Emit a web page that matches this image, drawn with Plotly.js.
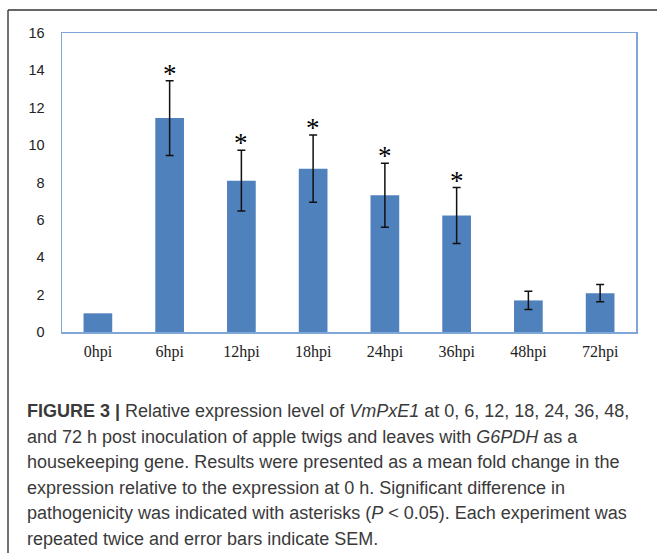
<!DOCTYPE html>
<html>
<head>
<meta charset="utf-8">
<script src="https://cdn.plot.ly/plotly-3.0.1.min.js"></script>
<style>html,body{margin:0;padding:0;background:#fff;}#chart{width:657px;height:553px;}</style>
</head>
<body>
<div id="chart"></div>
<script>
const categories = ["0hpi","6hpi","12hpi","18hpi","24hpi","36hpi","48hpi","72hpi"];
const values = [1.0, 11.45, 8.1, 8.74, 7.32, 6.23, 1.69, 2.08];
const sem = [NaN, 2.0, 1.62, 1.8, 1.71, 1.5, 0.49, 0.46];
const significant = [false, true, true, true, true, true, false, false];
const yTicks = [0, 2, 4, 6, 8, 10, 12, 14, 16];

const captionLines = [
  "<b>FIGURE 3 |</b> Relative expression level of <i>VmPxE1</i> at 0, 6, 12, 18, 24, 36, 48,",
  "and 72 h post inoculation of apple twigs and leaves with <i>G6PDH</i> as a",
  "housekeeping gene. Results were presented as a mean fold change in the",
  "expression relative to the expression at 0 h. Significant difference in",
  "pathogenicity was indicated with asterisks (<i>P</i> &lt; 0.05). Each experiment was",
  "repeated twice and error bars indicate SEM."
];

const L = 62, R = 21, T = 33, B = 221, W = 657, H = 553;
const pw = W - L - R, ph = H - T - B;
const px = x => (x - L) / pw;
const py = y => (H - B - y) / ph;

const trace = {
  type: "bar",
  x: categories,
  y: values,
  marker: {color: "#4f81bd", line: {width: 0}},
  error_y: {type: "data", array: sem, visible: true, color: "#111", thickness: 1.5, width: 4},
  hoverinfo: "none"
};

const annotations = [];
categories.forEach((c, i) => {
  if (significant[i]) {
    annotations.push({
      x: c, y: values[i] + sem[i], xref: "x", yref: "y",
      text: "*", showarrow: false, yanchor: "bottom", yshift: -10,
      font: {family: "Liberation Serif, serif", size: 27, color: "#000"}
    });
  }
});
captionLines.forEach((t, i) => {
  annotations.push({
    x: px(25), y: py(411 + i * 25.6), xref: "paper", yref: "paper",
    xanchor: "left", yanchor: "middle", showarrow: false, align: "left",
    text: t,
    font: {family: "Liberation Sans, Arial, sans-serif", size: 18, color: "#3a3a3a"}
  });
});

const shapes = [
  {type: "line", xref: "paper", yref: "paper", x0: px(8), x1: px(660), y0: py(10), y1: py(10), line: {color: "#666", width: 2}},
  {type: "line", xref: "paper", yref: "paper", x0: px(8), x1: px(8), y0: py(10), y1: py(560), line: {color: "#444", width: 1.5}}
];

const layout = {
  width: W, height: H,
  margin: {l: L, r: R, t: T, b: B},
  paper_bgcolor: "#fff", plot_bgcolor: "#fff",
  showlegend: false,
  bargap: 0.6,
  xaxis: {
    type: "category", showgrid: false, zeroline: false,
    showline: true, mirror: true, linecolor: "#7fa6d6", linewidth: 1.5,
    ticks: "", ticklabelstandoff: 4,
    tickfont: {family: "Liberation Serif, Times New Roman, serif", size: 16, color: "#222"}
  },
  yaxis: {
    range: [0, 16], tickvals: yTicks, showgrid: false, zeroline: false,
    showline: true, mirror: true, linecolor: "#7fa6d6", linewidth: 1.5,
    ticks: "", ticklabelstandoff: 13,
    tickfont: {family: "Liberation Sans, Arial, sans-serif", size: 14.5, color: "#222"}
  },
  annotations: annotations,
  shapes: shapes
};

Plotly.newPlot("chart", [trace], layout, {displayModeBar: false, staticPlot: true});
</script>
</body>
</html>
